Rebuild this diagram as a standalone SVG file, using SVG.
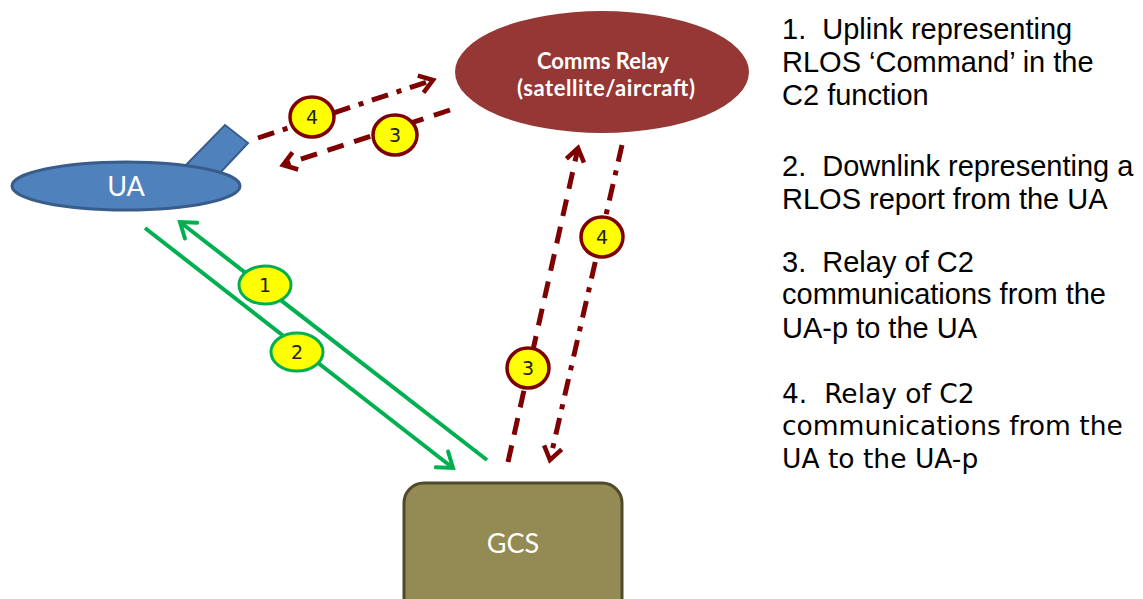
<svg xmlns="http://www.w3.org/2000/svg" width="1143" height="599" viewBox="0 0 1143 599">
<style>
.green{stroke:#00B050;stroke-width:4;fill:none}
.red{stroke:#7F0000;stroke-width:5;fill:none}
.dash{stroke-dasharray:17 11}
.dashdot{stroke-dasharray:17 9 5 9}
.bg{fill:#FFFF00;stroke:#00B050;stroke-width:3}
.br{fill:#FFFF00;stroke:#7F0000;stroke-width:3.5}
.bt{font-family:"DejaVu Sans",sans-serif;font-size:19px;fill:#222;text-anchor:middle}
.nt{font-family:Lato,"Open Sans",sans-serif;fill:#fff;text-anchor:middle}
.leg{font-family:"Liberation Sans",Arial,sans-serif;font-size:29px;fill:#000}
.legv{font-family:"DejaVu Sans",Verdana,sans-serif;font-size:26.5px;fill:#000}
</style>
<defs>
<marker id="ag" markerUnits="userSpaceOnUse" markerWidth="30" markerHeight="30" refX="0" refY="0" viewBox="-20 -15 30 30" orient="auto">
<path d="M-14,-10 L0,0 L-14,10" fill="none" stroke="#00B050" stroke-width="4" stroke-linecap="round" stroke-linejoin="miter"/>
</marker>
<marker id="ar" markerUnits="userSpaceOnUse" markerWidth="30" markerHeight="30" refX="0" refY="0" viewBox="-20 -15 30 30" orient="auto">
<path d="M-13,-9 L0,0 L-13,9" fill="none" stroke="#7F0000" stroke-width="4.5" stroke-linejoin="miter"/>
</marker>
</defs>
<rect width="1143" height="599" fill="#fff"/>

<g id="ua">
<polygon points="185,166 225,125 248,143 220,173" fill="#4F81BD" stroke="#385D8A" stroke-width="2"/>
<ellipse cx="126" cy="186" rx="114" ry="24" fill="#4F81BD" stroke="#385D8A" stroke-width="3"/>
<text class="nt" x="126" y="196" font-size="27">UA</text>
</g>

<g id="relay">
<ellipse cx="602" cy="72" rx="147" ry="61" fill="#953735"/>
<text class="nt" x="603" y="69" font-size="22" font-weight="bold">Comms Relay</text>
<text class="nt" x="606" y="96" font-size="22" font-weight="bold" textLength="178" lengthAdjust="spacing">(satellite/aircraft)</text>
</g>

<g id="gcs">
<rect x="404" y="483" width="218" height="140" rx="20" fill="#948A54" stroke="#4F4A2A" stroke-width="3"/>
<text class="nt" x="513" y="553" font-size="27">GCS</text>
</g>

<g id="connectors">
<line class="green" x1="487" y1="460" x2="180" y2="222" marker-end="url(#ag)"/>
<line class="green" x1="145" y1="228" x2="453" y2="468" marker-end="url(#ag)"/>
<line class="red dashdot" x1="258" y1="138" x2="433" y2="80" marker-end="url(#ar)"/>
<line class="red dash" x1="450" y1="110" x2="283" y2="165" marker-end="url(#ar)"/>
<line class="red dash" x1="508" y1="462" x2="578" y2="148" marker-end="url(#ar)"/>
<line class="red dashdot" x1="622" y1="145" x2="550" y2="460" marker-end="url(#ar)"/>
</g>

<g id="badges">
<ellipse class="bg" cx="265" cy="285" rx="26" ry="19"/>
<text class="bt" x="265" y="292">1</text>
<ellipse class="bg" cx="297" cy="352" rx="26" ry="19"/>
<text class="bt" x="297" y="359">2</text>
<ellipse class="br" cx="312" cy="117" rx="22" ry="20"/>
<text class="bt" x="312" y="124">4</text>
<ellipse class="br" cx="395" cy="135" rx="22" ry="20"/>
<text class="bt" x="395" y="142">3</text>
<ellipse class="br" cx="528" cy="368" rx="21" ry="20"/>
<text class="bt" x="528" y="375">3</text>
<ellipse class="br" cx="602" cy="237" rx="21" ry="20"/>
<text class="bt" x="602" y="244">4</text>
</g>

<g id="legend">
<text class="leg" x="782" y="39" xml:space="preserve">1.  Uplink representing</text>
<text class="leg" x="782" y="72">RLOS ‘Command’ in the</text>
<text class="leg" x="782" y="105">C2 function</text>
<text class="leg" x="782" y="176" xml:space="preserve">2.  Downlink representing a</text>
<text class="leg" x="782" y="209">RLOS report from the UA</text>
<text class="leg" x="782" y="272" xml:space="preserve">3.  Relay of C2</text>
<text class="leg" x="782" y="304">communications from the</text>
<text class="leg" x="782" y="338">UA-p to the UA</text>
<text class="legv" x="782" y="403" xml:space="preserve">4.  Relay of C2</text>
<text class="legv" x="782" y="435">communications from the</text>
<text class="legv" x="782" y="468">UA to the UA-p</text>
</g>
</svg>
